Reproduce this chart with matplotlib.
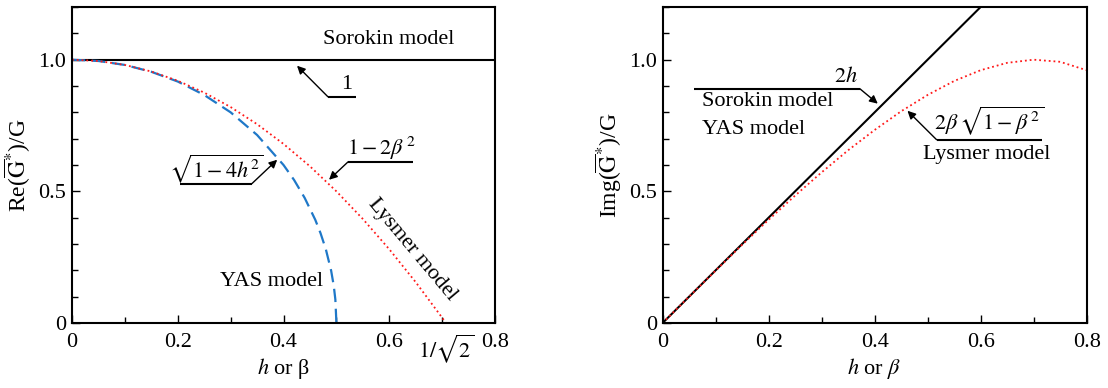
import numpy as np
import matplotlib
matplotlib.use("Agg")
import matplotlib.pyplot as plt
from matplotlib.ticker import MultipleLocator

plt.rcParams['font.family'] = ['Liberation Serif', 'DejaVu Serif']
plt.rcParams['mathtext.fontset'] = 'stix'
plt.rcParams['font.size'] = 16

# --- data ---
# Re part
sorokin_re_x = [0.0, 0.8]
sorokin_re_y = [1.0, 1.0]

yas_re_x = [0.0, 0.05, 0.10, 0.15, 0.20, 0.25, 0.30, 0.35, 0.40, 0.42, 0.44,
            0.46, 0.47, 0.48, 0.49, 0.495, 0.498, 0.5]
yas_re_y = [1.0, 0.995, 0.980, 0.954, 0.917, 0.866, 0.800, 0.714, 0.600, 0.543,
            0.475, 0.392, 0.341, 0.280, 0.199, 0.141, 0.089, 0.0]

lysmer_re_x = [0.0, 0.05, 0.10, 0.15, 0.20, 0.25, 0.30, 0.35, 0.40, 0.45,
               0.50, 0.55, 0.60, 0.65, 0.70, 0.707]
lysmer_re_y = [1.0, 0.995, 0.980, 0.955, 0.920, 0.875, 0.820, 0.755, 0.680,
               0.595, 0.500, 0.395, 0.280, 0.155, 0.020, 0.0]

# Img part
sorokin_im_x = [0.0, 0.6]
sorokin_im_y = [0.0, 1.2]

lysmer_im_x = [0.0, 0.05, 0.10, 0.15, 0.20, 0.25, 0.30, 0.35, 0.40, 0.45,
               0.50, 0.55, 0.60, 0.65, 0.70, 0.75, 0.80]
lysmer_im_y = [0.0, 0.100, 0.199, 0.297, 0.392, 0.484, 0.572, 0.656, 0.733,
               0.804, 0.866, 0.919, 0.960, 0.988, 1.000, 0.992, 0.960]

xticks_left = [0, 0.2, 0.4, 0.6, 0.8]
xlabels_left = ['0', '0.2', '0.4', '0.6', '0.8']
yticks = [0, 0.5, 1.0]
ylabels = ['0', '0.5', '1.0']

BLUE = '#1f78c8'
RED = '#ff1a1a'
FS = 16

fig = plt.figure(figsize=(11.08, 3.88), dpi=100)
ax1 = fig.add_axes([0.065, 0.1675, 0.3818, 0.8144])
ax2 = fig.add_axes([0.598, 0.1675, 0.3827, 0.8144])


def style_axes(ax):
    ax.set_xlim(0, 0.8)
    ax.set_ylim(0, 1.2)
    ax.xaxis.set_minor_locator(MultipleLocator(0.1))
    ax.yaxis.set_minor_locator(MultipleLocator(0.1))
    ax.set_yticks(yticks)
    ax.set_yticklabels(ylabels)
    ax.tick_params(which='both', direction='in', top=False, right=False,
                   width=1.0, labelsize=FS)
    ax.tick_params(which='major', length=6, pad=7)
    ax.tick_params(which='minor', length=4.5)
    ax.tick_params(axis='y', which='major', pad=4)
    for s in ax.spines.values():
        s.set_linewidth(1.5)


def callout(ax, text_xy, text, tip, corner, line_end, fs=FS):
    ax.plot([corner[0], line_end[0]], [corner[1], line_end[1]],
            color='black', lw=1.5, solid_capstyle='butt')
    ax.annotate('', xy=tip, xytext=corner,
                arrowprops=dict(arrowstyle='-|>', color='black', lw=1.0,
                                mutation_scale=12, shrinkA=0, shrinkB=0))
    ax.text(text_xy[0], text_xy[1], text, ha='center', va='center', fontsize=fs)


# ---- left: real part ----
style_axes(ax1)
ax1.plot(sorokin_re_x, sorokin_re_y, color='black', lw=1.5)
ax1.plot(yas_re_x, yas_re_y, color=BLUE, lw=1.6, dashes=(6, 3))
ax1.plot(lysmer_re_x, lysmer_re_y, color=RED, lw=1.3, ls=':')
ax1.set_xticks(xticks_left)
ax1.set_xticklabels(xlabels_left)
ax1.text(1 / np.sqrt(2), -0.035, r'$1/\sqrt{2}$', ha='center', va='top',
         fontsize=FS)
ax1.set_xlabel(r'$h$ or β', fontsize=FS, labelpad=3)
ax1.set_ylabel(r'Re($\overline{\mathrm{G}}^{*}$)/G', fontsize=17, labelpad=4)

ax1.text(0.598, 1.076, 'Sorokin model', ha='center', va='center')
callout(ax1, (0.52, 0.905), '1', (0.4255, 0.977), (0.484, 0.859), (0.537, 0.859))
callout(ax1, (0.272, 0.585), r'$\sqrt{1-4h^2}$', (0.388, 0.62),
        (0.340, 0.529), (0.204, 0.529))
callout(ax1, (0.585, 0.665), r'$1-2\beta^{\,2}$', (0.486, 0.544),
        (0.522, 0.612), (0.645, 0.612))
ax1.text(0.643, 0.278, 'Lysmer model', ha='center', va='center', rotation=-50)
ax1.text(0.378, 0.156, 'YAS model', ha='center', va='center')

# ---- right: imaginary part ----
style_axes(ax2)
ax2.plot(sorokin_im_x, sorokin_im_y, color='black', lw=1.5)
ax2.plot(lysmer_im_x, lysmer_im_y, color=RED, lw=1.3, ls=':')
ax2.set_xticks(xticks_left)
ax2.set_xticklabels(xlabels_left)
ax2.set_xlabel(r'$h$ or $\beta$', fontsize=FS, labelpad=3)
ax2.set_ylabel(r'Img($\overline{\mathrm{G}}^{*}$)/G', fontsize=17, labelpad=4)

callout(ax2, (0.345, 0.935), r'$2h$', (0.406, 0.833), (0.372, 0.890), (0.060, 0.890))
ax2.text(0.075, 0.840, 'Sorokin model', ha='left', va='center')
ax2.text(0.075, 0.734, 'YAS model', ha='left', va='center')
callout(ax2, (0.617, 0.770), r'$2\beta\,\sqrt{1-\beta^{\,2}}$', (0.462, 0.806),
        (0.517, 0.696), (0.715, 0.696))
ax2.text(0.611, 0.639, 'Lysmer model', ha='center', va='center')

fig.savefig('out.png', dpi=100)
